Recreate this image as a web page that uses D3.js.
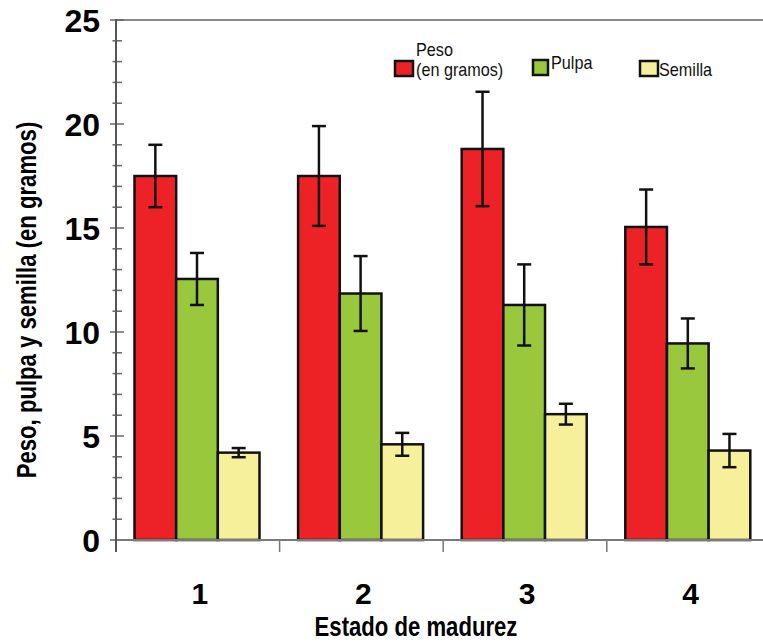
<!DOCTYPE html>
<html lang="es">
  <head>
    <meta charset="UTF-8" />
    <title>Estado de madurez</title>
    <style>
      body { margin: 0; background: #fff; }
      svg { display: block; }
    </style>
  </head>
  <body>
<script src="https://cdn.jsdelivr.net/npm/d3@7"></script>
    <script>
    // data
    var estados = ["1", "2", "3", "4"];
    var series = ["Peso", "Pulpa", "Semilla"];
    var peso = [17.5, 17.5, 18.8, 15.05];
    var pesoErr = [1.5, 2.4, 2.75, 1.8];
    var pulpa = [12.55, 11.85, 11.3, 9.45];
    var pulpaErr = [1.25, 1.8, 1.95, 1.2];
    var semilla = [4.2, 4.6, 6.05, 4.3];
    var semillaErr = [0.22, 0.55, 0.5, 0.8];
    var yTicks = [0, 5, 10, 15, 20, 25];

    var colores = ["#ec2227", "#99c83d", "#f7f09b"];

    var width = 763;
    var height = 644;
    var sans = "'Liberation Sans', Arial, sans-serif";
    var squeeze = 0.82;   // fake a condensed face

    var svg = d3.select("body")
      .append("svg")
      .attr("width", width)
      .attr("height", height);

    var yScale = d3.scaleLinear()
      .domain([0, 25])
      .range([540, 20]);

    var xScale = d3.scaleBand()
      .domain(estados)
      .range([116, 770.4]);

    var xInner = d3.scaleBand()
      .domain(series)
      .range([18.5, 143.5]);

    var values = [peso, pulpa, semilla];
    var errs = [pesoErr, pulpaErr, semillaErr];

    var rows = [];
    estados.forEach(function(e, i) {
      series.forEach(function(s, j) {
        rows.push({ estado: e, serie: s, v: values[j][i], err: errs[j][i], color: colores[j] });
      });
    });

    // top frame line
    svg.append("line")
      .attr("x1", 116).attr("x2", width)
      .attr("y1", yScale(25)).attr("y2", yScale(25))
      .attr("stroke", "#8a8a8a")
      .attr("stroke-width", 2);

    // minor ticks every 1
    svg.append("g")
      .selectAll("line")
      .data(d3.range(0, 26))
      .enter()
      .append("line")
      .attr("x1", function(d) { return d % 5 == 0 ? 110 : 112.5; })
      .attr("x2", function(d) { return d % 5 == 0 ? 124 : 122; })
      .attr("y1", function(d) { return yScale(d); })
      .attr("y2", function(d) { return yScale(d); })
      .attr("stroke", "#666")
      .attr("stroke-width", 1.5);

    // x ticks at band edges
    svg.append("g")
      .selectAll("line")
      .data(estados)
      .enter()
      .append("line")
      .attr("x1", function(d) { return xScale(d); })
      .attr("x2", function(d) { return xScale(d); })
      .attr("y1", 540)
      .attr("y2", 552)
      .attr("stroke", "#777")
      .attr("stroke-width", 1.5);

    // bars
    svg.append("g")
      .selectAll("rect")
      .data(rows)
      .enter()
      .append("rect")
      .attr("x", function(d) { return xScale(d.estado) + xInner(d.serie); })
      .attr("width", xInner.bandwidth())
      .attr("y", function(d) { return yScale(d.v); })
      .attr("height", function(d) { return yScale(0) - yScale(d.v); })
      .attr("fill", function(d) { return d.color; })
      .attr("stroke", "#111")
      .attr("stroke-width", 2.5);

    // error bars
    var eb = svg.append("g")
      .selectAll("g")
      .data(rows)
      .enter()
      .append("g")
      .attr("stroke", "#111")
      .attr("stroke-width", 2.5);

    function cx(d) { return xScale(d.estado) + xInner(d.serie) + xInner.bandwidth() / 2; }

    eb.append("line")
      .attr("x1", cx).attr("x2", cx)
      .attr("y1", function(d) { return yScale(d.v + d.err); })
      .attr("y2", function(d) { return yScale(d.v - d.err); });
    eb.append("line")
      .attr("x1", function(d) { return cx(d) - 7; })
      .attr("x2", function(d) { return cx(d) + 7; })
      .attr("y1", function(d) { return yScale(d.v + d.err); })
      .attr("y2", function(d) { return yScale(d.v + d.err); });
    eb.append("line")
      .attr("x1", function(d) { return cx(d) - 7; })
      .attr("x2", function(d) { return cx(d) + 7; })
      .attr("y1", function(d) { return yScale(d.v - d.err); })
      .attr("y2", function(d) { return yScale(d.v - d.err); });

    // axis lines
    svg.append("line")
      .attr("x1", 116).attr("x2", width)
      .attr("y1", yScale(0)).attr("y2", yScale(0))
      .attr("stroke", "#7a7a7a")
      .attr("stroke-width", 2);
    svg.append("line")
      .attr("x1", 116).attr("x2", 116)
      .attr("y1", yScale(25) - 1).attr("y2", 552)
      .attr("stroke", "#555")
      .attr("stroke-width", 2);

    // y tick labels
    svg.append("g")
      .selectAll("text")
      .data(yTicks)
      .enter()
      .append("text")
      .attr("x", 100)
      .attr("y", function(d) { return yScale(d) + 11.5; })
      .attr("text-anchor", "end")
      .style("font-family", sans)
      .style("font-weight", "bold")
      .style("font-size", "32px")
      .text(function(d) { return d; });

    // x tick labels
    svg.append("g")
      .selectAll("text")
      .data(estados)
      .enter()
      .append("text")
      .attr("x", function(d) { return xScale(d) + xScale.bandwidth() / 2 + 2; })
      .attr("y", 604)
      .attr("text-anchor", "middle")
      .style("font-family", sans)
      .style("font-weight", "bold")
      .style("font-size", "30px")
      .text(function(d) { return d; });

    // axis titles
    svg.append("text")
      .attr("transform", "translate(416,636) scale(" + squeeze + ",1)")
      .attr("text-anchor", "middle")
      .style("font-family", sans)
      .style("font-weight", "bold")
      .style("font-size", "27px")
      .text("Estado de madurez");

    svg.append("text")
      .attr("transform", "translate(36,300) rotate(-90) scale(" + squeeze + ",1)")
      .attr("text-anchor", "middle")
      .style("font-family", sans)
      .style("font-weight", "bold")
      .style("font-size", "27px")
      .text("Peso, pulpa y semilla (en gramos)");

    // legend
    var legX = [395, 533, 640];
    var legY = [61, 60, 61];
    var legW = [18, 15, 18];
    var lg = svg.append("g");
    series.forEach(function(s, i) {
      lg.append("rect")
        .attr("x", legX[i]).attr("y", legY[i])
        .attr("width", legW[i]).attr("height", 15)
        .attr("fill", colores[i])
        .attr("stroke", "#111")
        .attr("stroke-width", 2.5);
    });
    var legLabels = [
      { x: 416, y: 55.5, t: "Peso" },
      { x: 416, y: 76, t: "(en gramos)" },
      { x: 551, y: 69, t: "Pulpa" },
      { x: 659, y: 76, t: "Semilla" }
    ];
    lg.selectAll("text")
      .data(legLabels)
      .enter()
      .append("text")
      .attr("transform", function(d) { return "translate(" + d.x + "," + d.y + ") scale(0.9,1)"; })
      .style("font-family", sans)
      .style("font-size", "18px")
      .attr("fill", "#111")
      .text(function(d) { return d.t; });
    </script>
  </body>
</html>
